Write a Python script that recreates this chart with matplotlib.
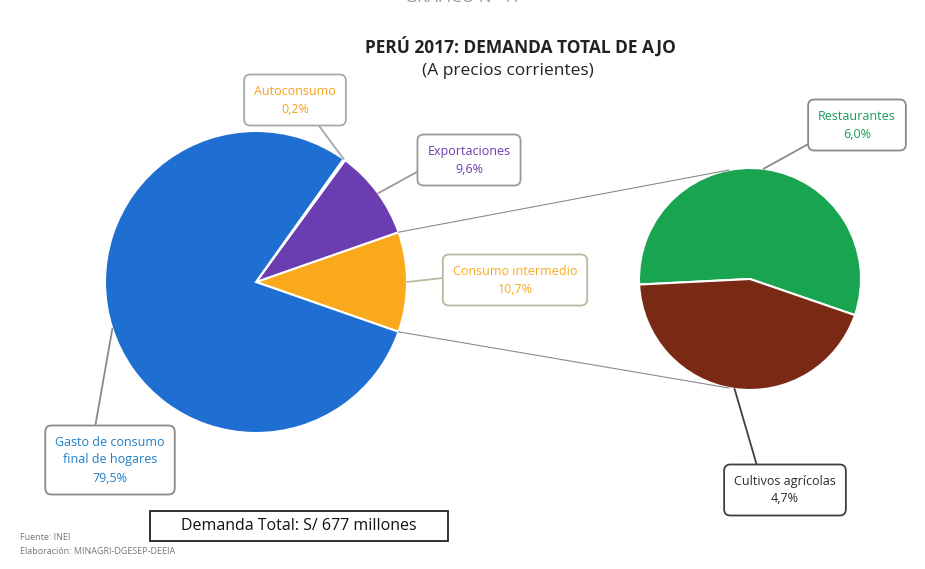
import numpy as np
import matplotlib.pyplot as plt
from matplotlib.patches import Rectangle

plt.rcParams['font.family'] = ['Open Sans', 'DejaVu Sans']

# pie principal (el primer sector se abre en el pie secundario)
main_labels = ["Consumo intermedio", "Exportaciones", "Autoconsumo",
               "Gasto de consumo\nfinal de hogares"]
main_values = [10.7, 9.6, 0.2, 79.5]
main_text = ["10,7%", "9,6%", "0,2%", "79,5%"]
main_colors = ["#F9A91B", "#6A3DB0", "#F6A21E", "#1E6FD1"]

# pie secundario
sec_labels = ["Restaurantes", "Cultivos agrícolas"]
sec_values = [6.0, 4.7]
sec_text = ["6,0%", "4,7%"]
sec_colors = ["#19A450", "#7A2A14"]

H = 569
fig = plt.figure(figsize=(9.25, 5.69), dpi=100)
ax = fig.add_axes([0, 0, 1, 1])

c1, r1 = (256, H - 282), 151
c2, r2 = (750, H - 279), 111

start1 = -main_values[0] * 3.6 / 2
w1, _ = ax.pie(main_values, colors=main_colors, startangle=start1, center=c1,
               radius=r1, frame=True, wedgeprops=dict(edgecolor='white', linewidth=1.5))
w2, _ = ax.pie(sec_values, colors=sec_colors, startangle=-19, center=c2,
               radius=r2, frame=True, wedgeprops=dict(edgecolor='white', linewidth=1.5))
ax.set_xlim(0, 925)
ax.set_ylim(0, H)
ax.set_aspect('equal')
ax.axis('off')


def pt(c, r, ang):
    a = np.deg2rad(ang)
    return (c[0] + r * np.cos(a), c[1] + r * np.sin(a))


# lineas de conexion
ax.plot(*zip(pt(c1, r1, w1[0].theta2), pt(c2, r2, 101)), color='#8a8a8a', lw=0.8)
ax.plot(*zip(pt(c1, r1, w1[0].theta1), pt(c2, r2, 259)), color='#8a8a8a', lw=0.8)

# etiquetas tipo llamada
callouts = [
    # texto, color texto, centro caja (px), angulo destino, color borde, punto de salida
    (main_labels[0] + "\n" + main_text[0], main_colors[0], (515, 280), 0, '#b9b9a0', (0, 0.6), c1, r1),
    (main_labels[1] + "\n" + main_text[1], main_colors[1], (469, 160), 36, '#9a9a9a', (0, 0.3), c1, r1),
    (main_labels[2] + "\n" + main_text[2], main_colors[2], (295, 100), 54.5, '#a8a8a8', (0.7, 0), c1, r1),
    (main_labels[3] + "\n" + main_text[3], '#1E7FC8', (110, 460), 198, '#8a8a8a', (0.35, 1), c1, r1),
    (sec_labels[0] + "\n" + sec_text[0], '#1A9A5A', (857, 125), 83, '#8a8a8a', (0.1, 0.2), c2, r2),
    (sec_labels[1] + "\n" + sec_text[1], '#2b2b2b', (785, 490), 262, '#404040', (0.25, 1), c2, r2),
]
for txt, tc, (bx, by), ang, ec, rp, c, r in callouts:
    ax.annotate(txt, xy=pt(c, r, ang), xytext=(bx, H - by), ha='center', va='center',
                fontsize=9, color=tc, linespacing=1.5,
                bbox=dict(boxstyle='round,pad=0.8,rounding_size=0.5', fc='white', ec=ec, lw=1.3),
                arrowprops=dict(arrowstyle='-', color=ec, lw=1.3, shrinkA=0, shrinkB=0,
                                relpos=rp))

# titulos
ax.text(463, H + 2, "GRÁFICO N° 17", ha='center', va='center', fontsize=12,
        color='#555555', alpha=0.6)
ax.text(520, H - 47, "PERÚ 2017: DEMANDA TOTAL DE AJO", ha='center', va='center',
        fontsize=12.5, fontweight='bold', color='#222222')
ax.text(508, H - 71, "(A precios corrientes)", ha='center', va='center',
        fontsize=12.5, color='#222222')

# recuadro de total
ax.add_patch(Rectangle((150, H - 541), 298, 30, fill=False, ec='#222222', lw=1.3))
ax.text(299, H - 526, "Demanda Total: S/ 677 millones", ha='center', va='center',
        fontsize=11.5, color='#111111')

# fuente
ax.text(20, H - 537, "Fuente: INEI", ha='left', va='center', fontsize=6.5, color='#777777')
ax.text(20, H - 552, "Elaboración: MINAGRI-DGESEP-DEEIA", ha='left', va='center',
        fontsize=6.5, color='#777777')

fig.savefig('out.png', dpi=100)
